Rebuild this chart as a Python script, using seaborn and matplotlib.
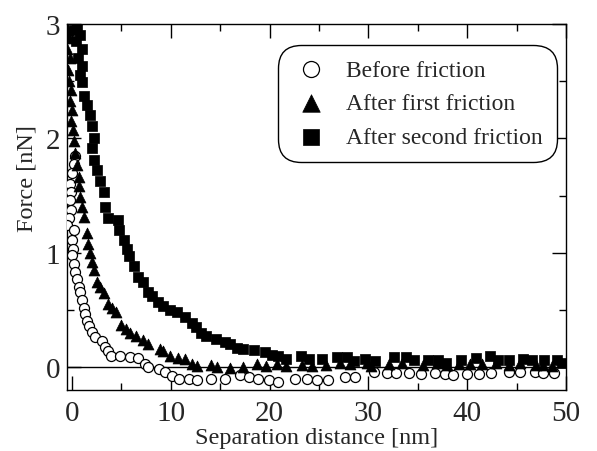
import numpy as np
import pandas as pd
import matplotlib
matplotlib.use("Agg")
import matplotlib.pyplot as plt
import seaborn as sns
from matplotlib.ticker import MultipleLocator

# Before friction (open circles)
before_x = [0.3, 0.2, 0.0, -0.2, -0.1, -0.2, -0.1, -0.3, -0.5, 0.2, 0.0, 0.1, 0.0, 0.2, 0.3,
            0.5, 0.7, 0.8, 1.0, 1.2, 1.3, 1.5, 1.7, 2.0, 2.3, 3.0, 3.3, 3.7, 4.0, 4.9, 5.9,
            6.7, 7.4, 7.7, 8.8, 9.4, 10.1, 10.8, 11.8, 12.7, 14.1, 15.5, 17.0, 17.9, 18.8,
            19.9, 20.9, 22.6, 23.8, 24.8, 25.9, 27.6, 28.6, 30.6, 31.9, 32.8, 34.1, 35.3,
            36.7, 37.7, 38.6, 40.0, 41.2, 42.4, 44.2, 45.3, 46.9, 47.7, 48.8]
before_y = [1.85, 1.78, 1.70, 1.60, 1.53, 1.46, 1.37, 1.30, 1.24, 1.20, 1.11, 1.03, 0.98, 0.90, 0.83,
            0.77, 0.70, 0.66, 0.59, 0.52, 0.46, 0.40, 0.36, 0.31, 0.26, 0.23, 0.18, 0.14, 0.10, 0.10, 0.09,
            0.08, 0.03, 0.00, -0.02, -0.04, -0.08, -0.10, -0.10, -0.11, -0.10, -0.10, -0.07, -0.09, -0.10,
            -0.11, -0.13, -0.10, -0.10, -0.11, -0.11, -0.09, -0.09, -0.04, -0.05, -0.05, -0.05, -0.06,
            -0.05, -0.06, -0.07, -0.06, -0.06, -0.05, -0.04, -0.04, -0.04, -0.05, -0.05]

# After first friction (filled triangles)
first_x = [-0.4, -0.3, -0.5, -0.2, -0.4, -0.3, -0.1, -0.2, 0.0, -0.1, 0.1, 0.2, 0.3, 0.5, 0.7,
           0.7, 0.8, 1.0, 1.2, 1.5, 1.6, 1.8, 2.0, 2.2, 2.5, 2.8, 3.2, 3.7, 4.1, 4.5, 5.0, 5.5,
           5.9, 6.5, 7.2, 7.7, 8.9, 9.2, 9.9, 10.7, 11.4, 12.2, 12.7, 14.1, 14.7, 16.0, 17.3,
           18.7, 19.6, 20.8, 21.7, 23.3, 24.3, 25.7, 27.1, 28.1, 29.9, 30.3, 32.1, 33.4, 35.5,
           36.9, 38.0, 39.2, 40.3, 41.5, 42.9, 44.2, 45.3, 47.0, 47.7, 48.6]
first_y = [2.95, 2.88, 2.78, 2.70, 2.60, 2.50, 2.42, 2.33, 2.25, 2.15, 2.07, 1.98, 1.87, 1.77, 1.66,
           1.58, 1.49, 1.40, 1.31, 1.17, 1.08, 1.00, 0.92, 0.85, 0.74, 0.70, 0.65, 0.55, 0.52, 0.48, 0.37, 0.33,
           0.30, 0.27, 0.24, 0.20, 0.16, 0.14, 0.10, 0.08, 0.07, 0.03, 0.01, 0.02, 0.00, -0.01, 0.00,
           0.03, 0.01, 0.03, 0.01, 0.02, 0.01, 0.02, 0.04, 0.03, 0.04, 0.01, 0.03, 0.04, 0.02,
           0.04, 0.02, 0.03, 0.03, 0.03, 0.04, 0.02, 0.04, 0.02, 0.02, 0.01]

# After second friction (filled squares)
second_x = [0.5, 0.2, 0.8, 0.4, 1.0, 0.6, 1.0, 0.8, 1.0, 1.2, 1.5, 1.8, 2.0, 2.2, 2.0, 2.2, 2.5,
            2.8, 3.2, 3.3, 3.7, 4.7, 4.8, 5.3, 5.6, 5.8, 6.3, 6.7, 7.2, 7.7, 8.1, 8.7, 9.2, 9.9,
            10.6, 11.4, 12.1, 12.6, 13.1, 13.6, 14.6, 15.5, 16.0, 16.7, 17.3, 18.4, 19.5, 20.2,
            20.9, 21.7, 23.2, 24.0, 25.3, 26.8, 27.8, 28.5, 29.7, 30.7, 32.6, 33.8, 34.6, 36.0,
            37.0, 37.9, 39.4, 40.9, 42.3, 43.1, 44.2, 45.6, 46.6, 47.8, 49.1, 49.6]
second_y = [2.98, 2.95, 2.90, 2.85, 2.78, 2.70, 2.63, 2.55, 2.49, 2.37, 2.29, 2.20, 2.11, 2.00, 1.92, 1.81, 1.72,
            1.63, 1.53, 1.40, 1.30, 1.29, 1.20, 1.11, 1.03, 0.97, 0.88, 0.79, 0.74, 0.66, 0.62, 0.57, 0.53, 0.50,
            0.48, 0.44, 0.39, 0.35, 0.30, 0.27, 0.25, 0.22, 0.20, 0.17, 0.16, 0.15, 0.13, 0.11,
            0.10, 0.07, 0.10, 0.07, 0.07, 0.09, 0.09, 0.05, 0.07, 0.05, 0.09, 0.09, 0.06, 0.06,
            0.06, 0.04, 0.06, 0.08, 0.10, 0.06, 0.06, 0.07, 0.06, 0.06, 0.06, 0.04]

labels = ["Before friction", "After first friction", "After second friction"]

sns.set_style("ticks")
plt.rcParams['font.family'] = ['Liberation Serif', 'DejaVu Serif']

fig = plt.figure(figsize=(5.97, 4.52), dpi=100)
ax = fig.add_axes([0.1122, 0.135, 0.836, 0.8097])

ax.axhline(0, color='black', lw=1.0, zorder=1)

sns.scatterplot(x=before_x, y=before_y, ax=ax, marker='o', s=52, facecolor='white',
                edgecolor='black', linewidth=0.9, label=labels[0], zorder=3)
sns.scatterplot(x=first_x, y=first_y, ax=ax, marker='^', s=62, color='black',
                edgecolor='black', linewidth=0.5, label=labels[1], zorder=3)
sns.scatterplot(x=second_x, y=second_y, ax=ax, marker='s', s=50, color='black',
                edgecolor='black', linewidth=0.5, label=labels[2], zorder=3)

ax.set_xlim(-0.5, 50)
ax.set_ylim(-0.2, 3)
ax.xaxis.set_major_locator(MultipleLocator(10))
ax.xaxis.set_minor_locator(MultipleLocator(5))
ax.yaxis.set_major_locator(MultipleLocator(1))
ax.yaxis.set_minor_locator(MultipleLocator(0.5))
ax.tick_params(which='both', direction='in', top=True, right=True, width=1, color='black')
ax.tick_params(which='major', length=10, labelsize=21, pad=5)
ax.tick_params(axis='x', which='major', pad=7)
ax.tick_params(which='minor', length=5)
for sp in ax.spines.values():
    sp.set_color('black')
    sp.set_linewidth(1)

ax.set_xlabel("Separation distance [nm]", fontsize=17.5, labelpad=1)
ax.set_ylabel("Force [nN]", fontsize=17.5)
ax.yaxis.set_label_coords(-0.06, 0.58)

leg = ax.legend(loc='upper right', bbox_to_anchor=(0.982, 0.943), borderaxespad=0,
                fontsize=17, markerscale=1.6, handletextpad=0.7, labelspacing=0.52,
                borderpad=0.6, handlelength=1.6, frameon=True, fancybox=True)
frame = leg.get_frame()
frame.set_edgecolor('black')
frame.set_linewidth(1)
frame.set_alpha(1)
frame.set_boxstyle('round,pad=0,rounding_size=1.0')

fig.savefig("out.png", dpi=100)
